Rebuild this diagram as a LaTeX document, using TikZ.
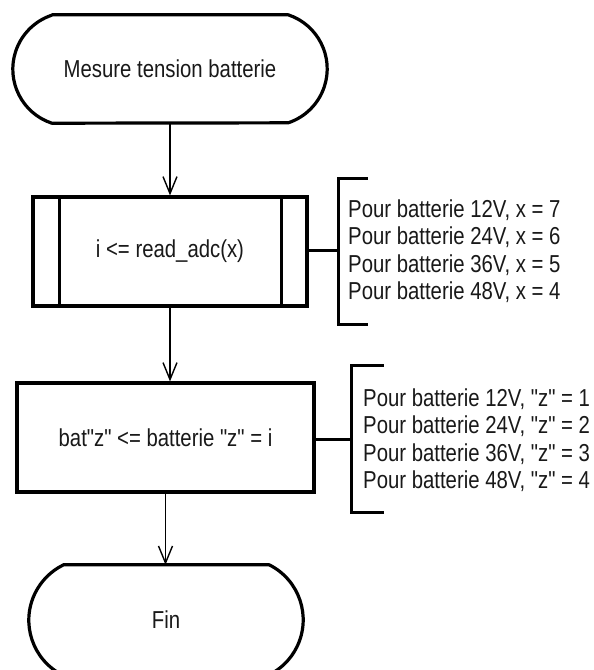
\documentclass[tikz,border=0pt]{standalone}
\usepackage{fontspec}
\setmainfont{Liberation Sans}[FakeStretch=0.83, Ligatures=TeXOff]
\usetikzlibrary{arrows.meta}
\begin{document}
\begin{tikzpicture}[x=1pt,y=-1pt,
  outline/.style={line width=3.2pt, line join=round},
  label/.style={inner sep=0pt, text=black!90, font=\fontsize{24.5}{27.5}\selectfont},
  frame/.style={label, draw=none},
  procbox/.style={label, draw, line width=3.2pt, minimum height=109pt},
  flow/.style={line width=1.7pt, -{Straight Barb[length=17pt,width=14pt,line width=1.4pt]}},
  link/.style={line width=3pt},
  note/.style={label, anchor=west, align=left}]
\useasboundingbox (0,0) rectangle (594,670);
\fill[white] (0,0) rectangle (594,670);
\clip (0,0) rectangle (594,670);

% start terminal
\node[frame, minimum width=236pt, minimum height=108pt] (start) at (170,69) {Mesure tension batterie};
\draw[outline] (start.north west) -- (start.north east)
  arc[start angle=-71.66, end angle=71.66, radius=56.9]
  -- (start.south west)
  arc[start angle=108.34, end angle=251.66, radius=56.9] -- cycle;

% predefined process: read the ADC
\node[procbox, minimum width=274pt] (sub) at (170,251.5) {i <= read\_adc(x)};
\draw[outline] ([xshift=28pt]sub.north west) -- ([xshift=28pt]sub.south west);
\draw[outline] ([xshift=-27pt]sub.north east) -- ([xshift=-27pt]sub.south east);

% store the value
\node[procbox, minimum width=297pt] (proc) at (165.5,437.5) {bat"z" <= batterie "z" = i};

% end terminal
\node[frame, minimum width=206pt, minimum height=110pt] (fin) at (166,620) {Fin};
\draw[outline] (fin.north west) -- (fin.north east)
  arc[start angle=-63.43, end angle=63.43, radius=61.5]
  -- (fin.south west)
  arc[start angle=116.57, end angle=243.43, radius=61.5] -- cycle;

% flow arrows
\draw[flow] (start.south) -- (sub.north);
\draw[flow] (sub.south) -- (sub.south |- proc.north);
\draw[flow] (proc.south) -- (proc.south |- fin.north);

% annotation for the ADC channel
\path (sub.east) ++(30,-1.5) coordinate (b1);
\draw[link] (sub.east |- b1) -- (b1);
\draw[link] (b1) ++(29,-72) -- ++(-29,0) -- ++(0,146) -- ++(29,0);
\node[note] (n1) at (348,251) {Pour batterie 12V, x = 7\\Pour batterie 24V, x = 6\\Pour batterie 36V, x = 5\\Pour batterie 48V, x = 4};

% annotation for the battery index
\path (proc.east) ++(36,1.5) coordinate (b2);
\draw[link] (proc.east |- b2) -- (b2);
\draw[link] (b2) ++(32,-73.5) -- ++(-32,0) -- ++(0,147) -- ++(32,0);
\node[note] (n2) at (363,440) {Pour batterie 12V, "z" = 1\\Pour batterie 24V, "z" = 2\\Pour batterie 36V, "z" = 3\\Pour batterie 48V, "z" = 4};
\end{tikzpicture}
\end{document}
